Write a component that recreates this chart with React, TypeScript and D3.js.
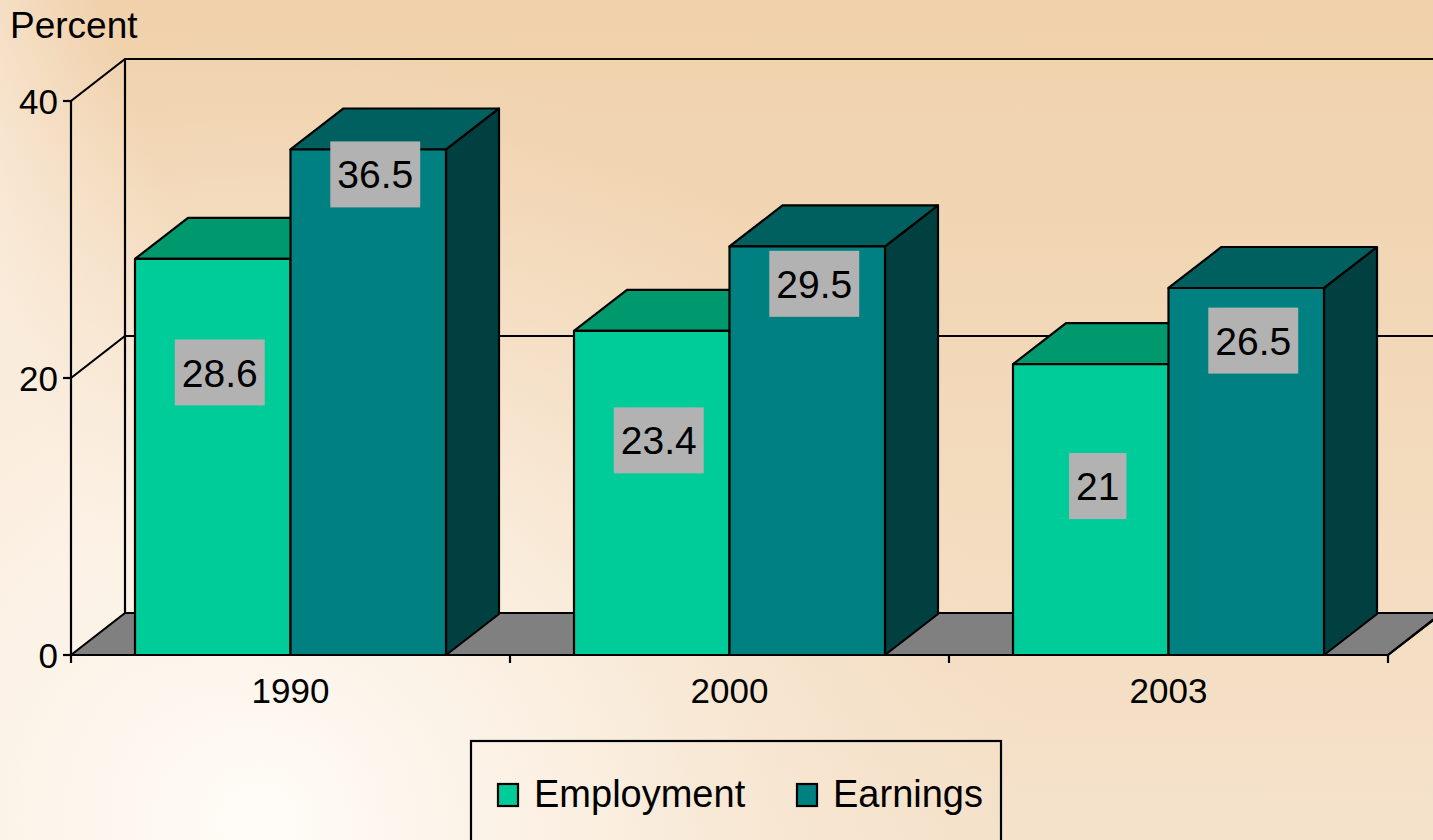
// 3D column chart: Employment vs Earnings share, drawn with D3
import React, { useEffect, useRef } from 'react';
import * as d3 from 'd3';

const years = ['1990', '2000', '2003'];
const seriesNames = ['Employment', 'Earnings'];
const employment = [28.6, 23.4, 21];
const earnings = [36.5, 29.5, 26.5];
const yTicks = [0, 20, 40];

// where Excel left the data labels (value units, centre of the box)
const employmentLabelAt = [20.4, 15.5, 12.2];
const earningsLabelAt = [34.7, 26.8, 22.7];

const W = 1433;
const H = 840;

const App: React.FC = () => {
  const svgRef = useRef<SVGSVGElement>(null);

  useEffect(() => {
    if (!svgRef.current) return;
    const svg = d3.select(svgRef.current);
    svg.selectAll('*').remove();

    const font = 'Arial, "Liberation Sans", sans-serif';
    const left = 71;
    const right = 1388;
    const bottom = 655;
    const top = 101;
    const sw = 2.2;
    // depth offsets for walls and columns
    const wdx = 54, wdy = -42;
    const bdx = 53, bdy = -41;

    const fills = {
      Employment: { front: '#00cc99', top: '#00996e', side: '#006650' },
      Earnings: { front: '#008080', top: '#006060', side: '#004040' },
    } as Record<string, { front: string; top: string; side: string }>;

    // фон
    const defs = svg.append('defs');
    const bg = defs.append('linearGradient').attr('id', 'bg').attr('x1', 0).attr('y1', 0).attr('x2', 0).attr('y2', 1);
    bg.append('stop').attr('offset', '0%').attr('stop-color', '#f0d1ab');
    bg.append('stop').attr('offset', '100%').attr('stop-color', '#f5e2cb');
    const glow = defs.append('radialGradient').attr('id', 'glow')
      .attr('gradientUnits', 'userSpaceOnUse').attr('cx', 260).attr('cy', 820).attr('r', 780);
    glow.append('stop').attr('offset', '0%').attr('stop-color', '#fffcf8').attr('stop-opacity', 1);
    glow.append('stop').attr('offset', '45%').attr('stop-color', '#fcf2e6').attr('stop-opacity', 0.75);
    glow.append('stop').attr('offset', '100%').attr('stop-color', '#f6e3cc').attr('stop-opacity', 0);
    const streak = defs.append('linearGradient').attr('id', 'streak')
      .attr('gradientUnits', 'userSpaceOnUse').attr('x1', 0).attr('y1', 300).attr('x2', 180).attr('y2', 240);
    streak.append('stop').attr('offset', '0%').attr('stop-color', '#fbeee0').attr('stop-opacity', 0.9);
    streak.append('stop').attr('offset', '100%').attr('stop-color', '#fbeee0').attr('stop-opacity', 0);

    svg.append('rect').attr('width', W).attr('height', H).attr('fill', 'url(#bg)');
    svg.append('rect').attr('width', W).attr('height', H).attr('fill', 'url(#streak)');
    svg.append('rect').attr('width', W).attr('height', H).attr('fill', 'url(#glow)');

    const y = d3.scaleLinear().domain([0, 40]).range([bottom, top]);
    const x0 = d3.scaleBand<string>().domain(years).range([left, right]).paddingInner(0.2916).paddingOuter(0.1458);
    const x1 = d3.scaleBand<string>().domain(seriesNames).range([0, x0.bandwidth()]);
    const xTick = d3.scaleBand<string>().domain(years).range([left, right]);

    const g = svg.append('g');
    const pts = (p: [number, number][]) => p.map((d) => d.join(',')).join(' ');

    // пол
    g.append('polygon')
      .attr('points', pts([[left, bottom], [right, bottom], [right + wdx, bottom + wdy], [left + wdx, bottom + wdy]]))
      .attr('fill', '#808080').attr('stroke', '#000').attr('stroke-width', sw).attr('stroke-linejoin', 'round');

    // стены и сетка
    const wallTop = y(40) + wdy;
    g.append('line').attr('x1', left + wdx).attr('x2', left + wdx).attr('y1', wallTop).attr('y2', bottom + wdy)
      .attr('stroke', '#000').attr('stroke-width', sw);
    yTicks.filter((t) => t > 0).forEach((t) => {
      g.append('polyline')
        .attr('points', pts([[left, y(t)], [left + wdx, y(t) + wdy], [W + 20, y(t) + wdy]]))
        .attr('fill', 'none').attr('stroke', '#000').attr('stroke-width', sw);
    });

    // ось Y
    g.append('line').attr('x1', left).attr('x2', left).attr('y1', y(40)).attr('y2', bottom)
      .attr('stroke', '#000').attr('stroke-width', sw);
    yTicks.forEach((t) => {
      g.append('line').attr('x1', left - 8).attr('x2', left).attr('y1', y(t)).attr('y2', y(t))
        .attr('stroke', '#000').attr('stroke-width', sw);
      g.append('text').attr('x', left - 13).attr('y', y(t)).attr('dy', '0.36em')
        .attr('text-anchor', 'end').attr('font-family', font).attr('font-size', 35).text(t);
    });

    svg.append('text').attr('x', 10).attr('y', 38).attr('font-family', font).attr('font-size', 37).text('Percent');

    // столбцы
    years.forEach((yr, i) => {
      const vals: Record<string, number> = { Employment: employment[i], Earnings: earnings[i] };
      seriesNames.forEach((s) => {
        const xa = (x0(yr) as number) + (x1(s) as number);
        const xb = xa + x1.bandwidth();
        const yt = y(vals[s]);
        const c = fills[s];
        const bar = g.append('g').attr('stroke', '#000').attr('stroke-width', sw).attr('stroke-linejoin', 'round');
        bar.append('polygon').attr('points', pts([[xb, bottom], [xb + bdx, bottom + bdy], [xb + bdx, yt + bdy], [xb, yt]]))
          .attr('fill', c.side);
        bar.append('polygon').attr('points', pts([[xa, yt], [xa + bdx, yt + bdy], [xb + bdx, yt + bdy], [xb, yt]]))
          .attr('fill', c.top);
        bar.append('rect').attr('x', xa).attr('y', yt).attr('width', xb - xa).attr('height', bottom - yt)
          .attr('fill', c.front);
      });
    });

    // ось X
    g.append('line').attr('x1', left).attr('x2', right).attr('y1', bottom).attr('y2', bottom)
      .attr('stroke', '#000').attr('stroke-width', sw);
    g.append('polyline').attr('points', pts([[right, bottom], [right + wdx, bottom + wdy]]))
      .attr('fill', 'none').attr('stroke', '#000').attr('stroke-width', sw);
    [left, ...years.map((yr) => (xTick(yr) as number) + xTick.bandwidth())].forEach((tx) => {
      g.append('line').attr('x1', tx).attr('x2', tx).attr('y1', bottom).attr('y2', bottom + 8)
        .attr('stroke', '#000').attr('stroke-width', sw);
    });
    years.forEach((yr) => {
      g.append('text').attr('x', (xTick(yr) as number) + xTick.bandwidth() / 2).attr('y', 703)
        .attr('text-anchor', 'middle').attr('font-family', font).attr('font-size', 35).text(yr);
    });

    // подписи данных
    const labels = g.append('g');
    years.forEach((yr, i) => {
      [
        { s: 'Employment', v: employment[i], at: employmentLabelAt[i] },
        { s: 'Earnings', v: earnings[i], at: earningsLabelAt[i] },
      ].forEach((d) => {
        const cx = (x0(yr) as number) + (x1(d.s) as number) + x1.bandwidth() / 2 + 7;
        const cy = y(d.at);
        const lg = labels.append('g');
        const txt = lg.append('text').attr('x', cx).attr('y', cy).attr('dy', '0.36em')
          .attr('text-anchor', 'middle').attr('font-family', font).attr('font-size', 39).text(d.v);
        const tw = (txt.node() as SVGTextElement).getComputedTextLength();
        lg.insert('rect', 'text').attr('x', cx - tw / 2 - 7).attr('y', cy - 33)
          .attr('width', tw + 14).attr('height', 66).attr('fill', '#b2b2b2');
      });
    });

    // легенда
    const leg = svg.append('g');
    leg.append('rect').attr('x', 471).attr('y', 741).attr('width', 530).attr('height', 120)
      .attr('fill', 'none').attr('stroke', '#000').attr('stroke-width', sw);
    const legX = d3.scaleOrdinal<string, number>().domain(seriesNames).range([498, 797]);
    seriesNames.forEach((s) => {
      leg.append('rect').attr('x', legX(s)).attr('y', 784).attr('width', 20).attr('height', 22)
        .attr('fill', fills[s].front).attr('stroke', '#000').attr('stroke-width', sw);
      leg.append('text').attr('x', legX(s) + 36).attr('y', 807).attr('font-family', font).attr('font-size', 38).text(s);
    });
  }, []);

  return (
    <svg ref={svgRef} width={W} height={H} style={{ position: 'absolute', left: 0, top: 0, display: 'block' }} />
  );
};

export default App;
